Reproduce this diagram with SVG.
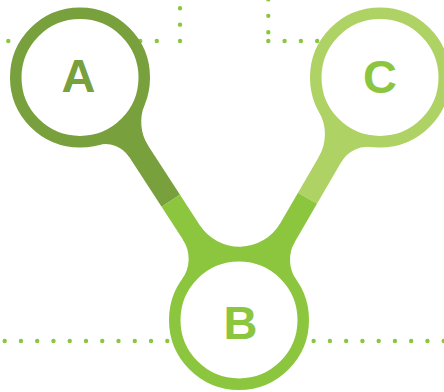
<svg xmlns="http://www.w3.org/2000/svg" width="444" height="392" viewBox="0 0 444 392">
<style>
.dots{fill:none;stroke:#8cc63f;stroke-width:4.4;stroke-linecap:round}
.ring{fill:#ffffff;stroke-width:11.5}
.lbl{font-family:"Liberation Sans",Arial,sans-serif;font-weight:bold;font-size:47px;text-anchor:middle}
.dk{fill:#78a03c}
.md{fill:#8cc63f}
.lt{fill:#aed264}
</style>
<rect width="444" height="392" fill="#ffffff"/>
<g id="dotted-lines">
<line class="dots" x1="4.7" y1="341" x2="444.5" y2="341" stroke-dasharray="0 16.26"/>
<line class="dots" x1="8.3" y1="41" x2="157.5" y2="41" stroke-dasharray="0 16.5"/>
<line class="dots" x1="180" y1="41" x2="180" y2="8" stroke-dasharray="0 16.35"/>
<line class="dots" x1="268.3" y1="32.3" x2="268.3" y2="-1" stroke-dasharray="0 16.45"/>
<line class="dots" x1="268.3" y1="41" x2="335" y2="41" stroke-dasharray="0 16.3"/>
</g>
<g id="connectors">
<g id="edge-A-B">
<polygon class="dk" points="90.7,97.8 109.2,85.8 180.0,194.8 161.6,206.8"/>
<path class="dk" d="M148.4,146.2 A45,45 0 0 1 144.7,104.4 L80,77.5 L139.2,152.2 Z"/>
<path class="dk" d="M129.1,156.8 A28,28 0 0 0 98.3,145.0 L80,77.5 L138.3,150.8 Z"/>
<polygon class="md" points="161.6,206.8 180.0,194.8 245.4,295.4 227.0,307.4"/>
<path class="md" d="M183.0,239.7 A35,35 0 0 1 182.1,279.2 L239,320 L192.2,233.7 Z"/>
</g>
<g id="edge-C-B">
<polygon class="lt" points="358.3,89.0 377.3,100.1 317.0,203.8 298.0,192.8"/>
<path class="lt" d="M318.8,156.9 A45,45 0 0 0 319.1,112.1 L380,77.5 L328.4,162.4 Z"/>
<path class="lt" d="M341.5,161.7 A30,30 0 0 1 371.2,147.0 L380,77.5 L332.0,156.2 Z"/>
<polygon class="md" points="298.0,192.8 317.0,203.8 256.7,307.6 237.7,296.5"/>
<path class="md" d="M294.8,242.1 A35,35 0 0 0 296.3,279.8 L239,320 L285.2,236.6 Z"/>
</g>
<path id="junction-B" class="md" d="M199.8,225.2 A47.3,47.3 0 0 0 280.3,223.2 L239,320 Z"/>
</g>
<g id="node-A">
<circle class="ring" cx="80" cy="77.5" r="64.25" stroke="#78a03c"/>
<text class="lbl" x="78.5" y="92" fill="#78a03c">A</text>
</g>
<g id="node-B">
<circle class="ring" cx="239" cy="320" r="64.25" stroke="#8cc63f"/>
<text class="lbl" x="240.5" y="339" fill="#8cc63f">B</text>
</g>
<g id="node-C">
<circle class="ring" cx="380" cy="77.5" r="64.25" stroke="#aed264"/>
<text class="lbl" x="380" y="92.5" fill="#8cc63f">C</text>
</g>
</svg>
